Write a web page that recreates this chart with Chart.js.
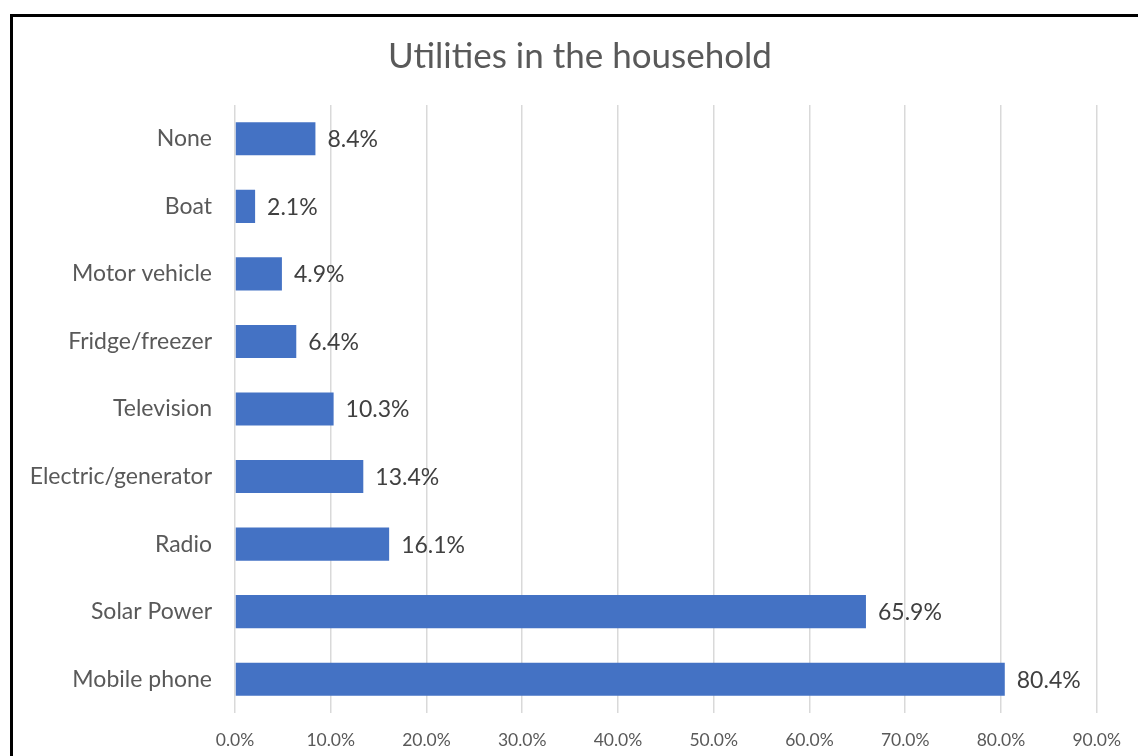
<!DOCTYPE html>
<html>
<head>
<meta charset="utf-8">
<script src="https://cdn.jsdelivr.net/npm/chart.js@4"></script>
<style>
    html, body { margin: 0; padding: 0; background: #fff; overflow: hidden; }
    #frame {
        position: absolute; left: 10px; top: 14px;
        width: 1200px; height: 800px;
        border: 3px solid #000;
    }
    #wrap { position: absolute; left: 0; top: 0; width: 1138px; height: 756px; }
</style>
</head>
<body>
<div id="frame"></div>
<div id="wrap"><canvas id="utilChart" width="1138" height="756"></canvas></div>
<script>
// Share of households owning each utility (percent)
const categories = ["None", "Boat", "Motor vehicle", "Fridge/freezer", "Television",
    "Electric/generator", "Radio", "Solar Power", "Mobile phone"];
const shares = [8.4, 2.1, 4.9, 6.4, 10.3, 13.4, 16.1, 65.9, 80.4];
const tickSteps = [0, 10, 20, 30, 40, 50, 60, 70, 80, 90];
const chartTitle = "Utilities in the household";

const fontFamily = "Lato, 'Open Sans', sans-serif";

// Title sits over the middle of the whole frame, not just the plot
const frameTitle = {
    id: "frameTitle",
    afterDraw(chart) {
        const ctx = chart.ctx;
        ctx.save();
        ctx.font = "35px " + fontFamily;
        ctx.fillStyle = "#595959";
        ctx.textAlign = "center";
        ctx.textBaseline = "middle";
        ctx.fillText(chartTitle, 580, 57);
        ctx.restore();
    }
};

// Write the value next to the end of each bar
const valueLabels = {
    id: "valueLabels",
    afterDatasetsDraw(chart) {
        const ctx = chart.ctx;
        const meta = chart.getDatasetMeta(0);
        ctx.save();
        ctx.font = "23px " + fontFamily;
        ctx.fillStyle = "#404040";
        ctx.textAlign = "left";
        ctx.textBaseline = "middle";
        meta.data.forEach((bar, i) => {
            ctx.fillText(shares[i].toFixed(1) + "%", bar.x + 12, bar.y + 1);
        });
        ctx.restore();
    }
};

const ctx = document.getElementById("utilChart").getContext("2d");
new Chart(ctx, {
    type: "bar",
    data: {
        labels: categories,
        datasets: [{
            data: shares,
            backgroundColor: "#4472c4",
            barPercentage: 0.49,
            categoryPercentage: 1.0,
        }],
    },
    options: {
        indexAxis: "y",
        responsive: false,
        animation: false,
        layout: {
            padding: { top: 105, left: 0, right: 35, bottom: 0 },
        },
        plugins: {
            legend: { display: false },
            tooltip: { enabled: false },
            title: { display: false },
        },
        scales: {
            x: {
                min: 0,
                max: 90,
                afterBuildTicks(scale) {
                    scale.ticks = tickSteps.map(v => ({ value: v }));
                },
                afterFit(scale) {
                    scale.height = 43;
                },
                grid: { color: "#d9d9d9", lineWidth: 1.5, drawTicks: false },
                border: { display: false },
                ticks: {
                    color: "#595959",
                    padding: 17,
                    font: { family: fontFamily, size: 17.5 },
                    callback: (v) => v.toFixed(1) + "%",
                },
            },
            y: {
                afterFit(scale) {
                    scale.width = 235;
                },
                grid: { display: false, drawTicks: false },
                border: { display: false },
                ticks: {
                    color: "#595959",
                    padding: 23,
                    font: { family: fontFamily, size: 23 },
                },
            },
        },
    },
    plugins: [valueLabels, frameTitle],
});
</script>
</body>
</html>
